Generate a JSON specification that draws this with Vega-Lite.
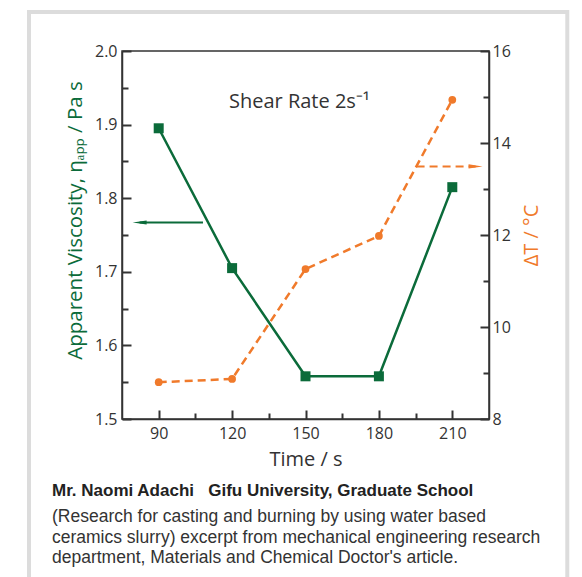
{
  "$schema": "https://vega.github.io/schema/vega-lite/v6.json",
  "width": 367,
  "height": 368,
  "autosize": {"type": "none"},
  "padding": {"left": 122, "top": 51, "right": 93, "bottom": 158},
  "background": "white",
  "config": {
    "view": {"stroke": "#333", "strokeWidth": 1.5},
    "font": "Open Sans"
  },
  "title": {
    "text": "Mr. Naomi Adachi\u00a0\u00a0\u00a0Gifu University, Graduate School",
    "subtitle": ["(Research for casting and burning by using water based", "ceramics slurry) excerpt from mechanical engineering research", "department, Materials and Chemical Doctor's article."],
    "orient": "bottom",
    "anchor": "start",
    "frame": "group",
    "dx": -70,
    "offset": -122,
    "font": "Liberation Sans",
    "fontSize": 17,
    "fontWeight": "bold",
    "color": "#222",
    "subtitleFont": "Liberation Sans",
    "subtitleFontSize": 17.5,
    "subtitleColor": "#333",
    "subtitleLineHeight": 20.5,
    "subtitlePadding": 8
  },
  "datasets": {
    "visc": [
      {"t": 90, "v": 1.895},
      {"t": 120, "v": 1.705},
      {"t": 150, "v": 1.558},
      {"t": 180, "v": 1.558},
      {"t": 210, "v": 1.815}
    ],
    "temp": [
      {"t": 90, "d": 8.8},
      {"t": 120, "d": 8.87},
      {"t": 150, "d": 11.26},
      {"t": 180, "d": 11.98},
      {"t": 210, "d": 14.94}
    ],
    "frame": [{"t": 37, "t2": 257, "v": 2.053, "v2": 1.25}],
    "greenArrow": [{"t": 82.2, "v": 1.767}, {"t": 108.1, "v": 1.767}],
    "greenHead": [{"t": 82.2, "v": 1.767}],
    "orangeArrow": [{"t": 195.4, "d": 13.49}, {"t": 219.5, "d": 13.49}],
    "orangeHead": [{"t": 219.5, "d": 13.49}],
    "label": [{"t": 147.5, "v": 1.922, "txt": "Shear Rate 2s⁻¹"}]
  },
  "layer": [
    {
      "encoding": {
        "x": {
          "field": "t", "type": "quantitative",
          "scale": {"domain": [75, 225], "nice": false, "zero": false},
          "axis": {
            "title": "Time / s",
            "values": [90, 105, 120, 135, 150, 165, 180, 195, 210],
            "labelExpr": "(datum.value-90)%30===0 ? datum.label : ''",
            "tickSize": {"condition": {"test": "(datum.value-90)%30===0", "value": -9}, "value": -6},
            "tickWidth": 2, "tickColor": "#333",
            "domainColor": "#333", "domainWidth": 1.5,
            "labelFont": "Open Sans", "labelFontSize": 16, "labelColor": "#333", "labelPadding": 15.5,
            "titleFont": "Open Sans", "titleFontSize": 20, "titleFontWeight": "normal", "titleColor": "#333", "titlePadding": 8,
            "grid": false
          }
        },
        "y": {
          "field": "v", "type": "quantitative",
          "scale": {"domain": [1.5, 2.0], "nice": false, "zero": false},
          "axis": {
            "title": "Apparent Viscosity, ηₐₚₚ / Pa s",
            "titleY": 169,
            "values": [1.5, 1.55, 1.6, 1.65, 1.7, 1.75, 1.8, 1.85, 1.9, 1.95, 2.0],
            "labelExpr": "round(datum.value*100)%10===0 ? format(datum.value,'.1f') : ''",
            "tickSize": {"condition": {"test": "round(datum.value*100)%10===0", "value": -9}, "value": -6},
            "tickWidth": 2, "tickColor": "#333",
            "domainColor": "#333", "domainWidth": 1.5,
            "labelFont": "Open Sans", "labelFontSize": 16, "labelColor": "#333", "labelPadding": 14,
            "titleFont": "Open Sans", "titleFontSize": 20.5, "titleFontWeight": "normal", "titleColor": "#0b6b3a", "titlePadding": 9,
            "grid": false
          }
        }
      },
      "layer": [
        {
          "data": {"name": "frame"},
          "mark": {"type": "rect", "fill": null, "stroke": "#dcdcdc", "strokeWidth": 4, "clip": false},
          "encoding": {"x2": {"field": "t2"}, "y2": {"field": "v2"}}
        },
        {
          "data": {"name": "visc"},
          "mark": {"type": "line", "color": "#0b6b3a", "strokeWidth": 2.5},
          "encoding": {}
        },
        {
          "data": {"name": "visc"},
          "mark": {"type": "point", "shape": "square", "filled": true, "opacity": 1, "color": "#0b6b3a", "size": 100},
          "encoding": {}
        },
        {
          "data": {"name": "greenArrow"},
          "mark": {"type": "line", "color": "#0b6b3a", "strokeWidth": 2},
          "encoding": {}
        },
        {
          "data": {"name": "greenHead"},
          "mark": {"type": "point", "shape": "M-1,0L1,-0.3L1,0.3Z", "filled": true, "opacity": 1, "color": "#0b6b3a", "size": 196},
          "encoding": {}
        },
        {
          "data": {"name": "label"},
          "mark": {"type": "text", "font": "Open Sans", "fontSize": 20, "color": "#333", "align": "center", "baseline": "alphabetic"},
          "encoding": {"text": {"field": "txt"}}
        }
      ]
    },
    {
      "encoding": {
        "x": {
          "field": "t", "type": "quantitative",
          "scale": {"domain": [75, 225], "nice": false, "zero": false},
          "axis": {
            "title": "Time / s",
            "values": [90, 105, 120, 135, 150, 165, 180, 195, 210],
            "labelExpr": "(datum.value-90)%30===0 ? datum.label : ''",
            "tickSize": {"condition": {"test": "(datum.value-90)%30===0", "value": -9}, "value": -6},
            "tickWidth": 2, "tickColor": "#333",
            "domainColor": "#333", "domainWidth": 1.5,
            "labelFont": "Open Sans", "labelFontSize": 16, "labelColor": "#333", "labelPadding": 15.5,
            "titleFont": "Open Sans", "titleFontSize": 20, "titleFontWeight": "normal", "titleColor": "#333", "titlePadding": 8,
            "grid": false
          }
        },
        "y": {
          "field": "d", "type": "quantitative",
          "scale": {"domain": [8, 16], "nice": false, "zero": false},
          "axis": {
            "orient": "right",
            "title": "ΔT / °C",
            "titleAngle": 270,
            "values": [8, 9, 10, 11, 12, 13, 14, 15, 16],
            "labelExpr": "datum.value%2===0 ? datum.label : ''",
            "tickSize": {"condition": {"test": "datum.value%2===0", "value": -9}, "value": -6},
            "tickWidth": 2, "tickColor": "#333",
            "domainColor": "#333", "domainWidth": 1.5,
            "labelFont": "Open Sans", "labelFontSize": 16, "labelColor": "#333", "labelPadding": 12,
            "titleFont": "Open Sans", "titleFontSize": 20, "titleFontWeight": "normal", "titleColor": "#f07a2b", "titlePadding": 31,
            "grid": false
          }
        }
      },
      "layer": [
        {
          "data": {"name": "temp"},
          "mark": {"type": "line", "color": "#f07a2b", "strokeWidth": 2.5, "strokeDash": [8, 5]},
          "encoding": {}
        },
        {
          "data": {"name": "temp"},
          "mark": {"type": "point", "shape": "circle", "filled": true, "opacity": 1, "color": "#f07a2b", "size": 60},
          "encoding": {}
        },
        {
          "data": {"name": "orangeArrow"},
          "mark": {"type": "line", "color": "#f07a2b", "strokeWidth": 2, "strokeDash": [8, 5]},
          "encoding": {}
        },
        {
          "data": {"name": "orangeHead"},
          "mark": {"type": "point", "shape": "M1,0L-1,-0.3L-1,0.3Z", "filled": true, "opacity": 1, "color": "#f07a2b", "size": 196},
          "encoding": {}
        }
      ]
    }
  ],
  "resolve": {"scale": {"y": "independent"}}
}
